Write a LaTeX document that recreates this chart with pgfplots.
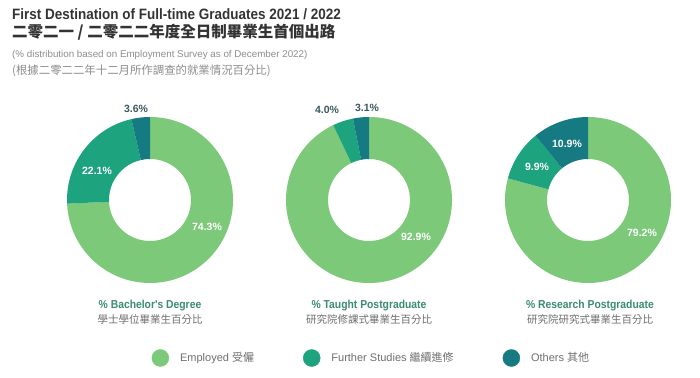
\documentclass[border=0pt]{standalone}
\usepackage{fontspec}
\setmainfont{Liberation Sans}
\newfontfamily\cjk{Noto Sans CJK TC}
\newfontfamily\condfont{Liberation Sans}[FakeStretch=0.9]
\usepackage{pgfplots}
\usepackage{pgfplotstable}
\pgfplotsset{compat=1.18}
\definecolor{cEmp}{RGB}{125,201,122}
\definecolor{cFur}{RGB}{29,163,125}
\definecolor{cOth}{RGB}{22,122,130}
\definecolor{cLab}{RGB}{58,140,108}
\definecolor{cOut}{RGB}{58,88,94}
\definecolor{cTitle}{RGB}{51,51,51}
\definecolor{cSub}{RGB}{140,140,140}
\definecolor{cGray}{RGB}{110,110,110}

\pgfplotstableread{
group employed further others
Bachelor 74.3 22.1 3.6
Taught 92.9 4.0 3.1
Research 79.2 9.9 10.9
}\donutdata

\newcommand\getval[3]{\pgfplotstablegetelem{#1}{#2}\of\donutdata\global\let#3\pgfplotsretval}
% cx, cy, start angle, end angle, colour
\newcommand\slice[5]{%
  \fill[#5] (axis cs:#1,#2) ++({#3}:83bp) arc[start angle={#3}, end angle={#4}, radius=83bp]
    -- ++({#4+180}:42bp) arc[start angle={#4}, end angle={#3}, radius=41bp] -- cycle;}
\newcommand\donut[5]{% cx, cy, E, F, O
  \slice{#1}{#2}{90}{90-3.6*#3}{cEmp}
  \slice{#1}{#2}{90-3.6*#3}{90-3.6*#3-3.6*#4}{cFur}
  \slice{#1}{#2}{90-3.6*#3-3.6*#4}{-270}{cOth}}

\begin{document}
\begin{tikzpicture}
\getval{0}{employed}\aE \getval{0}{further}\aF \getval{0}{others}\aO
\getval{1}{employed}\bE \getval{1}{further}\bF \getval{1}{others}\bO
\getval{2}{employed}\cE \getval{2}{further}\cF \getval{2}{others}\cO
\begin{axis}[
  x=1bp, y=1bp, xmin=0, xmax=700, ymin=0, ymax=377,
  hide axis, scale only axis, clip=false,
  legend columns=3,
  legend style={at={(axis cs:148.5,19)}, anchor=west, draw=none, fill=none,
    font=\fontsize{11bp}{13bp}\selectfont\color{cGray},
    /tikz/every odd column/.append style={column sep=9bp},
    /tikz/every even column/.append style={column sep=47bp}},
]
\path (axis cs:0,0) rectangle (axis cs:700,377);
\addlegendimage{legend image code/.code={\fill[cEmp] (8.5bp,0bp) circle (8.5bp);}}
\addlegendentry{Employed {\cjk 受僱}}
\addlegendimage{legend image code/.code={\fill[cFur] (8.5bp,0bp) circle (8.5bp);}}
\addlegendentry{Further Studies {\cjk 繼續進修}}
\addlegendimage{legend image code/.code={\fill[cOth] (8.5bp,0bp) circle (8.5bp);}}
\addlegendentry{Others {\cjk 其他}}

\donut{150}{177}{\aE}{\aF}{\aO}
\donut{369}{177}{\bE}{\bF}{\bO}
\donut{588}{177}{\cE}{\cF}{\cO}

\tikzset{pin/.style={font=\fontsize{10.5bp}{12bp}\selectfont\bfseries, text=white, inner sep=0pt},
         pout/.style={font=\fontsize{10.5bp}{12bp}\selectfont\bfseries, text=cOut, inner sep=0pt}}
\node[pin]  at (axis cs:207,150) {\aE\%};
\node[pin]  at (axis cs:97,206)  {\aF\%};
\node[pout] at (axis cs:136,268) {\aO\%};
\node[pin]  at (axis cs:416,140) {\bE\%};
\node[pout] at (axis cs:327,267) {\bF\%};
\node[pout] at (axis cs:367,269) {\bO\%};
\node[pin]  at (axis cs:642,144) {\cE\%};
\node[pin]  at (axis cs:537,210) {\cF\%};
\node[pin]  at (axis cs:567,233) {\cO\%};

% titles
\node[anchor=base west, inner sep=0pt, text=cTitle, font=\condfont\bfseries\fontsize{15bp}{17bp}\selectfont]
  at (axis cs:12,358) {First Destination of Full-time Graduates 2021 / 2022};
\node[anchor=base west, inner sep=0pt, text=cTitle, font=\cjk\bfseries\fontsize{15.5bp}{17bp}\selectfont]
  at (axis cs:12,340) {二零二一 / 二零二二年度全日制畢業生首個出路};
\node[anchor=base west, inner sep=0pt, text=cSub, font=\fontsize{9.8bp}{11bp}\selectfont]
  at (axis cs:12,320) {(\% distribution based on Employment Survey as of December 2022)};
\node[anchor=base west, inner sep=0pt, text=cSub, font=\cjk\fontsize{11.4bp}{13bp}\selectfont]
  at (axis cs:12,303) {(根據二零二二年十二月所作調查的就業情況百分比)};

% group labels
\tikzset{gl/.style={anchor=base, inner sep=0pt, text=cLab, font=\condfont\bfseries\fontsize{11.5bp}{13bp}\selectfont},
         gc/.style={anchor=base, inner sep=0pt, text=cGray, font=\cjk\fontsize{10.5bp}{12bp}\selectfont}}
\node[gl] at (axis cs:150,69) {\% Bachelor's Degree};
\node[gc] at (axis cs:150,54) {學士學位畢業生百分比};
\node[gl] at (axis cs:369,69) {\% Taught Postgraduate};
\node[gc] at (axis cs:369,54) {研究院修課式畢業生百分比};
\node[gl] at (axis cs:590,69) {\% Research Postgraduate};
\node[gc] at (axis cs:590,54) {研究院研究式畢業生百分比};
\end{axis}
\end{tikzpicture}
\end{document}
